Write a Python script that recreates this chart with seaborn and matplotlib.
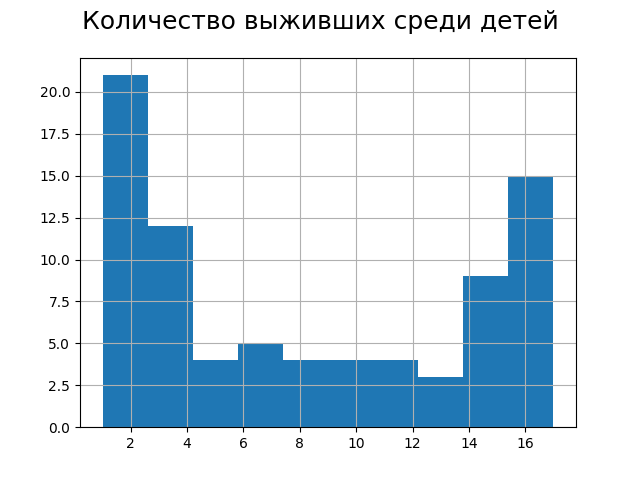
import numpy as np
import matplotlib
matplotlib.use("Agg")
import matplotlib.pyplot as plt
import seaborn as sns

# Bin edges and survivor counts per bin
bin_edges = [1.0, 2.6, 4.2, 5.8, 7.4, 9.0, 10.6, 12.2, 13.8, 15.4, 17.0]
counts = [21, 12, 4, 5, 4, 4, 4, 3, 9, 15]
title = "Количество выживших среди детей"

centers = [(a + b) / 2 for a, b in zip(bin_edges[:-1], bin_edges[1:])]

fig, ax = plt.subplots(figsize=(6.4, 4.8), dpi=100)
sns.histplot(x=centers, weights=counts, bins=bin_edges, color="#1f77b4",
             alpha=1, linewidth=0, ax=ax)
ax.set_ylabel("")
ax.set_xlabel("")
ax.grid(True)
fig.suptitle(title, fontsize=18)

fig.savefig("out.png", dpi=100)
